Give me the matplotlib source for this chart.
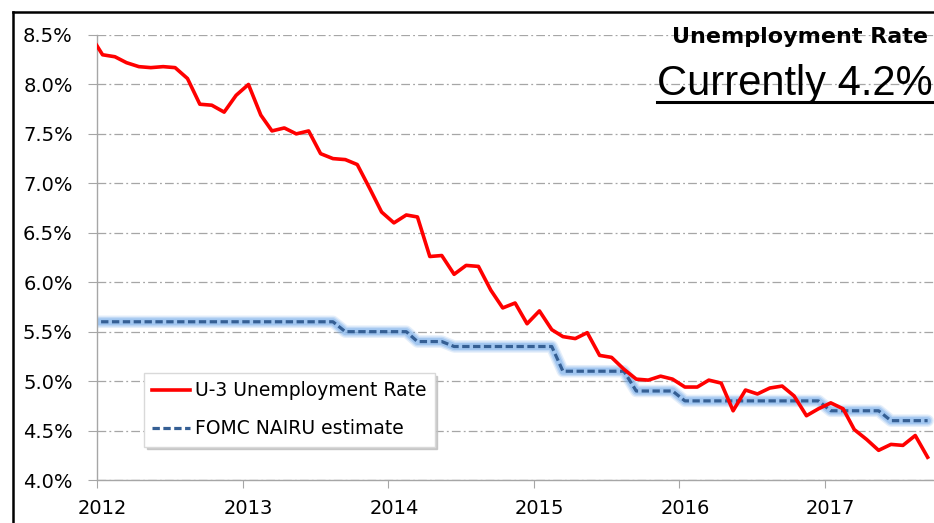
import pandas as pd
import matplotlib.pyplot as plt
import matplotlib.dates as mdates
from matplotlib.lines import Line2D
from matplotlib.transforms import ScaledTranslation

# DATA ############################################################

# monthly observations, plotted mid-month (Dec 2011 .. Sep 2017)
months = pd.date_range("2011-12-01", "2017-09-01", freq="MS") + pd.Timedelta(days=14)

u3_rate = [
    8.50,
    8.30, 8.28, 8.22, 8.18, 8.17, 8.18, 8.17, 8.06, 7.80, 7.79, 7.72, 7.89,
    8.00, 7.69, 7.53, 7.56, 7.50, 7.53, 7.30, 7.25, 7.24, 7.19, 6.95, 6.71,
    6.60, 6.68, 6.66, 6.26, 6.27, 6.08, 6.17, 6.16, 5.92, 5.74, 5.79, 5.58,
    5.71, 5.52, 5.45, 5.43, 5.49, 5.26, 5.24, 5.12, 5.02, 5.01, 5.05, 5.02,
    4.94, 4.94, 5.01, 4.98, 4.70, 4.91, 4.87, 4.93, 4.95, 4.85, 4.65, 4.72,
    4.78, 4.72, 4.51, 4.41, 4.30, 4.36, 4.35, 4.45, 4.23,
]

nairu = [
    5.60,
    5.60, 5.60, 5.60, 5.60, 5.60, 5.60, 5.60, 5.60, 5.60, 5.60, 5.60, 5.60,
    5.60, 5.60, 5.60, 5.60, 5.60, 5.60, 5.60, 5.60, 5.50, 5.50, 5.50, 5.50,
    5.50, 5.50, 5.40, 5.40, 5.40, 5.35, 5.35, 5.35, 5.35, 5.35, 5.35, 5.35,
    5.35, 5.35, 5.10, 5.10, 5.10, 5.10, 5.10, 5.10, 4.90, 4.90, 4.90, 4.90,
    4.80, 4.80, 4.80, 4.80, 4.80, 4.80, 4.80, 4.80, 4.80, 4.80, 4.80, 4.80,
    4.70, 4.70, 4.70, 4.70, 4.70, 4.60, 4.60, 4.60, 4.60,
]

y_ticks = [4.0, 4.5, 5.0, 5.5, 6.0, 6.5, 7.0, 7.5, 8.0, 8.5]
y_tick_labels = ["4.0%", "4.5%", "5.0%", "5.5%", "6.0%",
                 "6.5%", "7.0%", "7.5%", "8.0%", "8.5%"]

current_rate = "4.2%"

# FIGURE ##########################################################

W, H = 934, 523
fig = plt.figure(figsize=(W / 100, H / 100), dpi=100)
ax = fig.add_axes([97 / W, 1 - 480 / H, 837 / W, 445 / H])

grey = "#a6a6a6"

# NAIRU with soft glow
for lw, alpha in [(9, 0.2), (7, 0.3), (5, 0.45)]:
    ax.plot(months, nairu, color="#78aeea", lw=lw, alpha=alpha,
            solid_capstyle="round", solid_joinstyle="round", zorder=2)

nairu_line, = ax.plot(months, nairu, color="#355f94", lw=2.3,
                      linestyle=(0, (2.3, 1.1)), zorder=2.5,
                      label="FOMC NAIRU estimate")

u3_line, = ax.plot(months, u3_rate, color="#ff0000", lw=2.6, zorder=3,
                   label="U-3 Unemployment Rate")

# AXES ############################################################

ax.set_xlim(pd.Timestamp("2012-01-01"), pd.Timestamp("2017-10-01"))
ax.set_ylim(4.0, 8.5)
ax.set_yticks(y_ticks)
ax.set_yticklabels(y_tick_labels)

ax.xaxis.set_major_locator(mdates.YearLocator())
ax.xaxis.set_major_formatter(mdates.DateFormatter("%Y"))

ax.yaxis.grid(True, color=grey, lw=0.9, linestyle=(0, (7, 2.5, 1.5, 2.5)))
ax.set_axisbelow(True)

for side in ["top", "right"]:
    ax.spines[side].set_visible(False)
for side in ["left", "bottom"]:
    ax.spines[side].set_color(grey)
    ax.spines[side].set_linewidth(1.0)

ax.tick_params(axis="y", length=6.5, color=grey, pad=11, labelsize=14)
ax.tick_params(axis="x", length=6, color=grey, pad=8, labelsize=14)

for lab in ax.get_xticklabels():
    lab.set_transform(lab.get_transform()
                      + ScaledTranslation(5.5 / 100, 0, fig.dpi_scale_trans))

# LEGEND ##########################################################

ax.legend(
    handles=[u3_line, nairu_line],
    loc="upper left",
    bbox_to_anchor=(144 / W, 1 - 373 / H),
    bbox_transform=fig.transFigure,
    borderaxespad=0,
    fontsize=13.5,
    handlelength=2.0,
    handletextpad=0.25,
    borderpad=0.45,
    labelspacing=1.0,
    fancybox=False,
    framealpha=1,
    edgecolor="#d9d9d9",
    shadow={"color": "#bfbfbf", "alpha": 0.8},
)

# TITLE TEXT ######################################################

fig.text(928 / W, 1 - 43 / H, "Unemployment Rate", ha="right", va="baseline",
         fontsize=16, fontweight="bold")

current = fig.text(933 / W, 1 - 95 / H, "Currently " + current_rate,
                   ha="right", va="baseline", fontsize=30,
                   family="Liberation Sans")

fig.canvas.draw()
bb = current.get_window_extent()
fig.add_artist(Line2D([bb.x0 / W, bb.x1 / W], [1 - 101.5 / H, 1 - 101.5 / H],
                      color="black", lw=2.2, transform=fig.transFigure))

# frame of the original slide (left and top edges)
fig.add_artist(Line2D([13 / W, 13 / W], [0, 1 - 12 / H], color="black",
                      lw=1.8, transform=fig.transFigure))
fig.add_artist(Line2D([13 / W, 1], [1 - 12 / H, 1 - 12 / H], color="black",
                      lw=1.8, transform=fig.transFigure))

fig.savefig("out.png", dpi=100)
